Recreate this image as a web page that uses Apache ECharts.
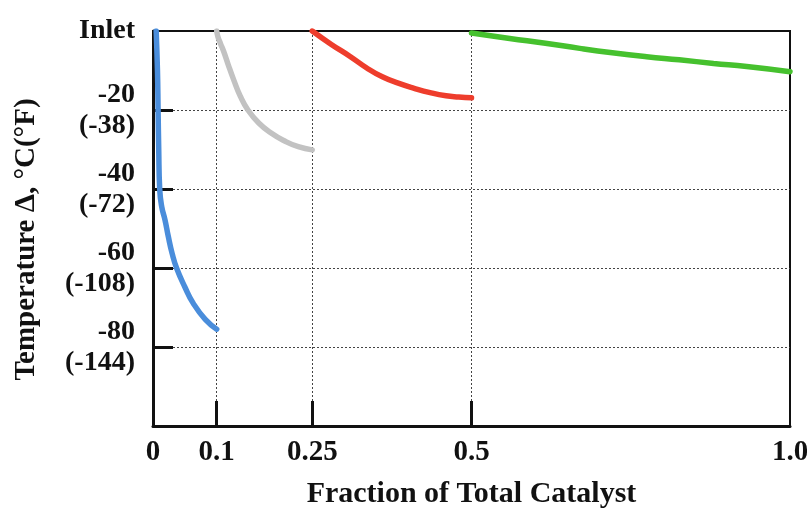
<!DOCTYPE html>
<html>
<head>
<meta charset="utf-8">
<script src="https://cdn.jsdelivr.net/npm/echarts@6/dist/echarts.min.js"></script>
<style>
	html, body { margin: 0; padding: 0; background: #fff; }
	#chart { width: 807px; height: 508px; }
</style>
</head>
<body>
<div id="chart"></div>
<script>
// x ticks / labels
var xTickVals = [0.1, 0.25, 0.5];
var xLabelVals = [0, 0.1, 0.25, 0.5, 1];
var xLabels = ['0', '0.1', '0.25', '0.5', '1.0'];

// y ticks / labels (deg C, deg F in brackets)
var yTickVals = [-20, -40, -60, -80];
var yLabelVals = [0, -20, -40, -60, -80];
var yLabelsC = ['Inlet', '-20', '-40', '-60', '-80'];
var yLabelsF = ['', '(-38)', '(-72)', '(-108)', '(-144)'];

// bed 1
var blueX = [0.005, 0.007, 0.008, 0.009, 0.0105, 0.0137, 0.0188, 0.024, 0.030, 0.037, 0.050, 0.063, 0.082, 0.1];
var blueY = [0, -10, -20, -30, -40, -44.5, -47.8, -52, -56.3, -60, -64.8, -68.9, -73, -75.5];
// bed 2
var grayX = [0.1, 0.102, 0.106, 0.111, 0.118, 0.127, 0.137, 0.149, 0.166, 0.186, 0.206, 0.228, 0.25];
var grayY = [0, -1.5, -3.2, -5.2, -8.5, -12.5, -16.5, -20, -23.3, -25.9, -27.8, -29.3, -30.1];
// bed 3
var redX = [0.25, 0.28, 0.31, 0.335, 0.36, 0.385, 0.41, 0.435, 0.46, 0.48, 0.5];
var redY = [0, -3.4, -6.5, -9.3, -11.6, -13.2, -14.5, -15.6, -16.4, -16.7, -16.9];
// bed 4
var greenX = [0.5, 0.56, 0.616, 0.67, 0.721, 0.775, 0.826, 0.88, 0.932, 1.0];
var greenY = [-0.5, -1.9, -3.1, -4.4, -5.5, -6.5, -7.3, -8.2, -9.0, -10.3];

function pts(xs, ys) {
	let out = [];
	for (let i = 0; i < xs.length; i++) {
		out.push([xs[i], ys[i]]);
	}
	return out;
}

function bed(name, xs, ys, color) {
	return {
		name: name,
		type: 'line',
		smooth: 0.5,
		showSymbol: false,
		data: pts(xs, ys),
		lineStyle: { color: color, width: 5.5, cap: 'round' }
	};
}

var font = 'Liberation Serif';
var chartDom = document.getElementById('chart');
var myChart = echarts.init(chartDom);
var option;

option = {
	backgroundColor: '#fff',
	animation: false,
	grid: {
		left: 153,
		right: 17,
		top: 31,
		bottom: 82,
		outerBoundsMode: 'none',
		containLabel: false,
		show: true,
		borderColor: '#111',
		borderWidth: 2
	},
	xAxis: {
		type: 'value',
		min: 0,
		max: 1,
		name: 'Fraction of Total Catalyst',
		nameLocation: 'middle',
		nameGap: 53,
		nameTextStyle: { fontFamily: font, fontWeight: 'bold', fontSize: 30, color: '#111' },
		axisLine: { onZero: false, lineStyle: { color: '#111', width: 3 } },
		axisTick: {
			inside: true,
			length: 25,
			customValues: xTickVals,
			lineStyle: { color: '#111', width: 3 }
		},
		axisLabel: {
			customValues: xLabelVals,
			margin: 12,
			fontFamily: font,
			fontWeight: 'bold',
			fontSize: 29,
			color: '#111',
			formatter: function(v) {
				let i = xLabelVals.indexOf(v);
				return i < 0 ? '' : xLabels[i];
			}
		},
		splitLine: {
			show: true,
			lineStyle: { color: '#444', width: 1, type: [2, 2] }
		}
	},
	yAxis: {
		type: 'value',
		min: -100,
		max: 0,
		interval: 20,
		name: 'Temperature \u0394, \u00b0C(\u00b0F)',
		nameLocation: 'middle',
		nameGap: 112,
		nameRotate: 90,
		nameTextStyle: { fontFamily: font, fontWeight: 'bold', fontSize: 29, color: '#111', padding: [0, 22, 0, 0] },
		axisLine: { show: true, onZero: false, lineStyle: { color: '#111', width: 3 } },
		axisTick: {
			show: true,
			inside: true,
			length: 20,
			customValues: yTickVals,
			lineStyle: { color: '#111', width: 3 }
		},
		axisLabel: {
			customValues: yLabelVals,
			margin: 18,
			fontFamily: font,
			fontWeight: 'bold',
			fontSize: 28,
			lineHeight: 31,
			color: '#111',
			formatter: function(v) {
				let i = yLabelVals.indexOf(v);
				if (i < 0) return '';
				return yLabelsF[i] ? yLabelsC[i] + '\n' + yLabelsF[i] : yLabelsC[i];
			}
		},
		splitLine: {
			show: true,
			lineStyle: { color: '#444', width: 1, type: [2, 2] }
		}
	},
	series: [
		bed('bed1', blueX, blueY, '#4a8ddb'),
		bed('bed2', grayX, grayY, '#c2c2c2'),
		bed('bed3', redX, redY, '#ee3d2c'),
		bed('bed4', greenX, greenY, '#46c12e')
	]
};
option && myChart.setOption(option);
</script>
</body>
</html>
